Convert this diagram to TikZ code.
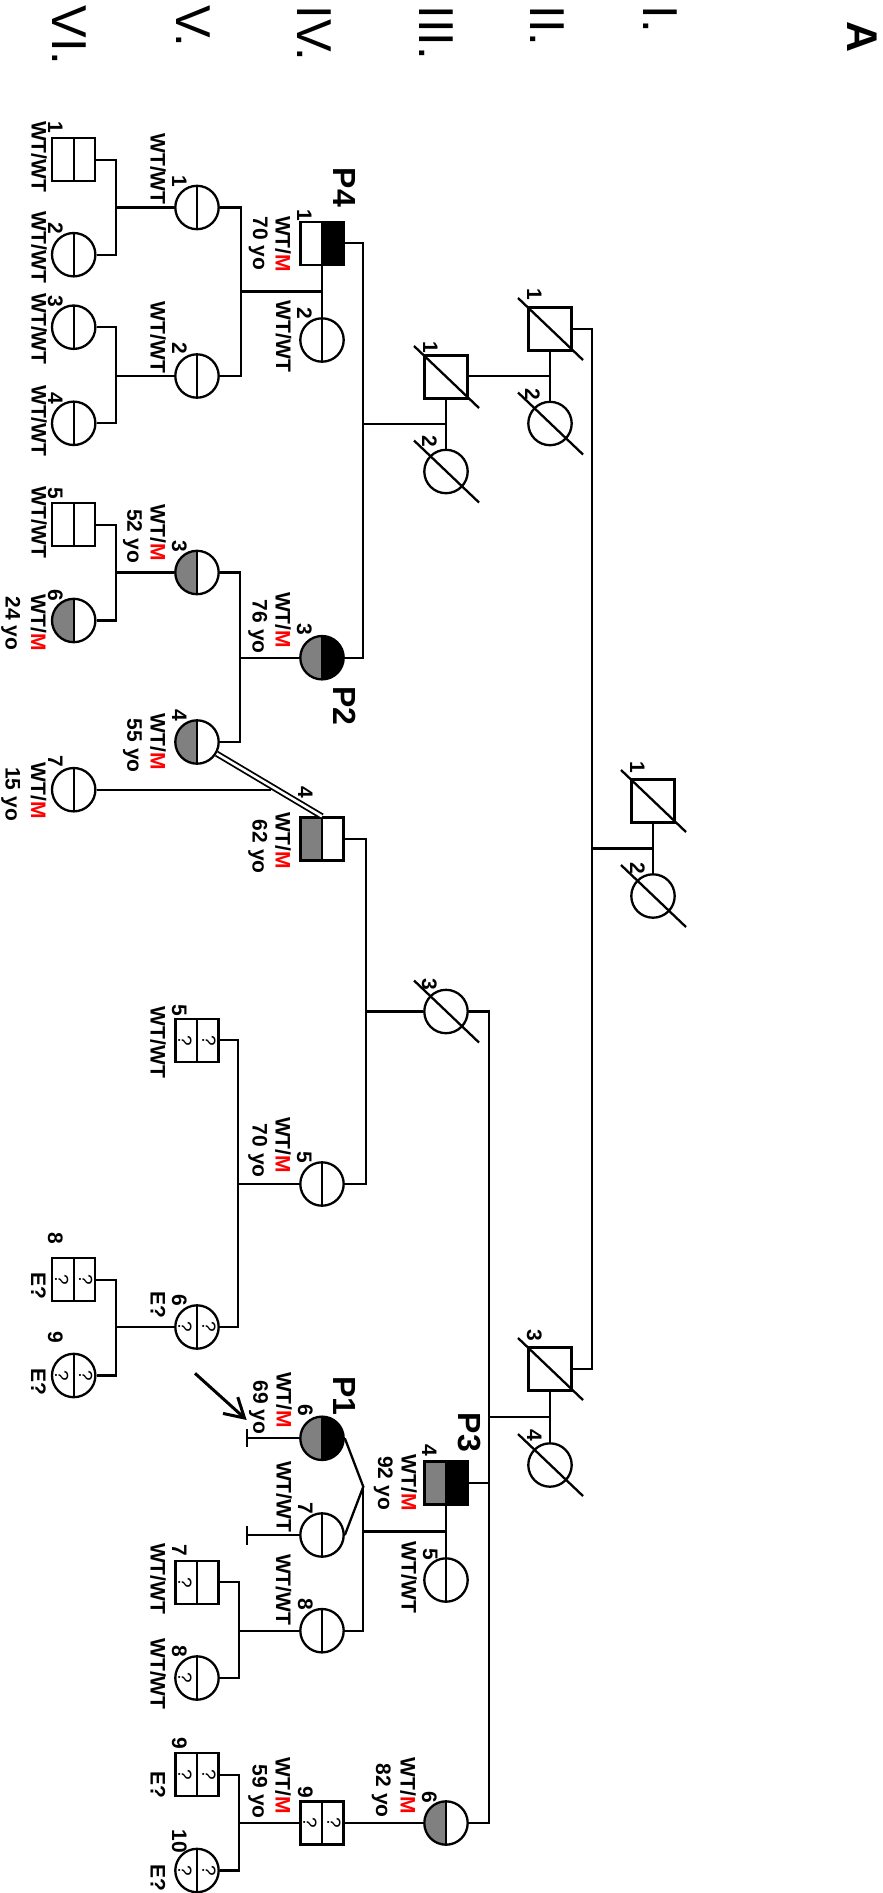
\documentclass[tikz,border=0pt]{standalone}
\usepackage{fontspec}
\setmainfont{Liberation Sans}
\usetikzlibrary{calc,arrows.meta}
\definecolor{gry}{RGB}{128,128,128}
\newcommand\WM{WT/\textcolor{red}{M}}
\newcommand\lab[4]{\node[lab] (#1) at (#2,#3) {#4};}
\newcommand\dead[1]{\draw (#1.center) ++(-32,-31) -- ++(65,62);}
\newcommand\qq[3]{\node[qm] (#1) at ($(#2)+(#3,0)$) {?};}
\begin{document}
\begin{tikzpicture}[x=1pt,y=-1pt,line width=2.3pt,
  sq/.style={rectangle, draw, minimum size=43pt, inner sep=0pt},
  ci/.style={circle, draw, minimum size=43.4pt, inner sep=0pt},
  halves/.style 2 args={path picture={
    \fill[#1] (path picture bounding box.south west) rectangle (path picture bounding box.north);
    \fill[#2] (path picture bounding box.south) rectangle (path picture bounding box.north east);
    \draw[line width=2.3pt] (path picture bounding box.south) -- (path picture bounding box.north);}},
  lab/.style={rotate=-90, inner sep=0pt, anchor=base, font=\bfseries\fontsize{21}{21}\selectfont},
  pl/.style={rotate=-90, inner sep=0pt, anchor=base, font=\bfseries\fontsize{32}{32}\selectfont},
  gen/.style={rotate=-90, inner sep=0pt, anchor=base west, font=\fontsize{49}{49}\selectfont},
  qm/.style={rotate=-90, inner sep=0pt, font=\fontsize{19}{19}\selectfont},
  dbl/.style={double, double distance=2.6pt, line width=1.8pt}
]
\fill[white] (0,0) rectangle (883,1893);
\useasboundingbox (0,0) rectangle (883,1893);

% generation numerals and panel letter
\node[gen] (gI) at (643,4.5) {I.};
\node[gen] (gII) at (530,4.5) {II.};
\node[gen] (gIII) at (419,4.5) {III.};
\node[gen] (gIV) at (297,4.5) {IV.};
\node[gen] (gV) at (176,4.5) {V.};
\node[gen] (gVI) at (52,4.5) {VI.};
\node[rotate=-90, inner sep=0pt, anchor=base, font=\bfseries\fontsize{43}{43}\selectfont] (pA) at (847,37) {A};

% symbols
\node[sq] (I1) at (653,801) {};
\node[ci] (I2) at (653,896) {};
\node[sq] (II1) at (550,329) {};
\node[ci] (II2) at (550,423.5) {};
\node[sq] (II3) at (550,1369) {};
\node[ci] (II4) at (550,1465) {};
\node[sq] (III1) at (446,377) {};
\node[ci] (III2) at (446,471.5) {};
\node[ci] (III3) at (446,1011.5) {};
\node[sq,halves={gry}{black}] (III4) at (446,1483) {};
\node[ci,halves={white}{white}] (III5) at (446,1580) {};
\node[ci,halves={gry}{white}] (III6) at (446,1823) {};
\node[sq,halves={white}{black}] (IV1) at (322,243.3) {};
\node[ci,halves={white}{white}] (IV2) at (322,340) {};
\node[ci,halves={gry}{black}] (IV3) at (322,657.7) {};
\node[sq,halves={gry}{white}] (IV4) at (322,839) {};
\node[ci,halves={white}{white}] (IV5) at (322,1184) {};
\node[ci,halves={gry}{black}] (IV6) at (322,1438.3) {};
\node[ci,halves={white}{white}] (IV7) at (322,1535) {};
\node[ci,halves={white}{white}] (IV8) at (322,1630.7) {};
\node[sq,halves={white}{white}] (IV9) at (322,1823) {};
\node[ci,halves={white}{white}] (V1) at (197,207.5) {};
\node[ci,halves={white}{white}] (V2) at (197,376) {};
\node[ci,halves={gry}{white}] (V3) at (197,572.5) {};
\node[ci,halves={gry}{white}] (V4) at (197,742) {};
\node[sq,halves={white}{white}] (V5) at (197,1040.3) {};
\node[ci,halves={white}{white}] (V6) at (197,1327) {};
\node[sq,halves={white}{white}] (V7) at (197,1582.3) {};
\node[ci,halves={white}{white}] (V8) at (197,1678) {};
\node[sq,halves={white}{white}] (V9) at (197,1774.8) {};
\node[ci,halves={white}{white}] (V10) at (197,1870.5) {};
\node[sq,halves={white}{white}] (VI1) at (73.7,159.7) {};
\node[ci,halves={white}{white}] (VI2) at (73.7,254.7) {};
\node[ci,halves={white}{white}] (VI3) at (73.7,327.2) {};
\node[ci,halves={white}{white}] (VI4) at (73.7,423.3) {};
\node[sq,halves={white}{white}] (VI5) at (73.7,524.7) {};
\node[ci,halves={gry}{white}] (VI6) at (73.7,620.5) {};
\node[ci,halves={white}{white}] (VI7) at (73.7,789.7) {};
\node[sq,halves={white}{white}] (VI8) at (73.7,1279.7) {};
\node[ci,halves={white}{white}] (VI9) at (73.7,1375.5) {};

% deceased slashes
\dead{I1}\dead{I2}\dead{II1}\dead{II2}\dead{II3}\dead{II4}
\dead{III1}\dead{III2}\dead{III3}

% question marks
\qq{q1}{IV9}{-12}\qq{q2}{IV9}{12}
\qq{q3}{V5}{-12}\qq{q4}{V5}{12}
\qq{q5}{V6}{-12}\qq{q6}{V6}{12}
\qq{q7}{V7}{-12}
\qq{q8}{V8}{-12}
\qq{q9}{V9}{-12}\qq{q10}{V9}{12}
\qq{q11}{V10}{-12}\qq{q12}{V10}{12}
\qq{q13}{VI8}{-12}\qq{q14}{VI8}{12}
\qq{q15}{VI9}{-12}\qq{q16}{VI9}{12}

% connectors: generation I
\draw (I1.south) -- (I2.north);
\coordinate (m1) at ($(I1.south)!0.5!(I2.north)$);
\coordinate (s2) at (592.3,0);
\draw (m1) -- (m1 -| s2);
\draw (II1.east) -- (II1.east -| s2) -- (II3.east -| s2) -- (II3.east);
% generation II
\draw (II1.south) -- (II2.north);
\coordinate (m2) at ($(II1.south)!0.5!(II2.north)$);
\draw (m2) -- (m2 -| III1.east);
\draw (II3.south) -- (II4.north);
\coordinate (m3) at ($(II3.south)!0.5!(II4.north)$);
\coordinate (s3) at (489.3,0);
\draw (m3) -- (m3 -| s3);
\draw (III3.east) -- (III3.east -| s3) -- (III6.east -| s3) -- (III6.east);
\draw (III4.east) -- (III4.east -| s3);
% generation III
\draw (III1.south) -- (III2.north);
\coordinate (m4) at ($(III1.south)!0.5!(III2.north)$);
\coordinate (s4) at (363.3,0);
\draw (m4) -- (m4 -| s4);
\draw (IV1.east) -- (IV1.east -| s4) -- (IV3.east -| s4) -- (IV3.east);
\coordinate (s4b) at (365.7,0);
\draw (III3.west) -- (III3.west -| s4b);
\draw (IV4.east) -- (IV4.east -| s4b) -- (IV5.east -| s4b) -- (IV5.east);
\draw (III4.south) -- (III5.north);
\coordinate (m7) at ($(III4.south)!0.5!(III5.north)$);
\coordinate (tw) at (363.3,1486.7);
\draw (m7) -- (m7 -| tw);
\draw (IV6.east) -- (tw) -- (IV7.east);
\draw (tw) -- (IV8.east -| tw) -- (IV8.east);
\draw (III6.west) -- (IV9.east);
% generation IV
\draw (IV1.south) -- (IV2.north);
\coordinate (m5) at ($(IV1.south)!0.5!(IV2.north)$);
\coordinate (s5a) at (240.7,0);
\draw (m5) -- (m5 -| s5a);
\draw (V1.east) -- (V1.east -| s5a) -- (V2.east -| s5a) -- (V2.east);
\coordinate (s5b) at (240,0);
\draw (IV3.west) -- (IV3.west -| s5b);
\draw (V3.east) -- (V3.east -| s5b) -- (V4.east -| s5b) -- (V4.east);
\draw[dbl] (V4) -- (IV4.north);
\coordinate (cj) at ($(V4.center)!0.64!(IV4.north)+(-6,0)$);
\draw (VI7.east) -- (VI7.east -| cj);
\coordinate (s5c) at (238.3,0);
\draw (IV5.west) -- (IV5.west -| s5c);
\draw (V5.east) -- (V5.east -| s5c) -- (V6.east -| s5c) -- (V6.east);
\coordinate (t1) at (246.7,1438.3);
\coordinate (t2) at (246.7,1535);
\draw (IV6.west) -- (t1);
\draw (t1) ++(0,-9) -- ++(0,18);
\draw (IV7.west) -- (t2);
\draw (t2) ++(0,-9.5) -- ++(0,19);
\coordinate (s5d) at (239,0);
\draw (IV8.west) -- (IV8.west -| s5d);
\draw (V7.east) -- (V7.east -| s5d) -- (V8.east -| s5d) -- (V8.east);
\draw (IV9.west) -- (IV9.west -| s5d);
\draw (V9.east) -- (V9.east -| s5d) -- (V10.east -| s5d) -- (V10.east);
% generation V
\coordinate (s6) at (116,0);
\draw (V1.west) -- (V1.west -| s6);
\draw (VI1.east) -- (VI1.east -| s6) -- (VI2.east -| s6) -- (VI2.east);
\draw (V2.west) -- (V2.west -| s6);
\draw (VI3.east) -- (VI3.east -| s6) -- (VI4.east -| s6) -- (VI4.east);
\draw (V3.west) -- (V3.west -| s6);
\draw (VI5.east) -- (VI5.east -| s6) -- (VI6.east -| s6) -- (VI6.east);
\draw (V6.west) -- (V6.west -| s6);
\draw (VI8.east) -- (VI8.east -| s6) -- (VI9.east -| s6) -- (VI9.east);

% proband arrow
\coordinate (as) at (195,1373.3);
\coordinate (ae) at (246.7,1420);
\draw[line width=3pt, -{Straight Barb[length=19pt,width=22pt]}] (as) -- (ae);

% proband labels
\node[pl] (P4) at (333,187.5) {P4};
\node[pl] (P2) at (333,706) {P2};
\node[pl] (P1) at (333,1396) {P1};
\node[pl] (P3) at (458,1432.5) {P3};

% individual numbers
\lab{nI1}{630}{767}{1}
\lab{nI2}{630}{868.5}{2}
\lab{nII1}{527}{294}{1}
\lab{nII2}{525}{394}{2}
\lab{nII3}{527}{1335}{3}
\lab{nII4}{527}{1435}{4}
\lab{nIII1}{423}{347}{1}
\lab{nIII2}{422}{441}{2}
\lab{nIII3}{422}{984}{3}
\lab{nIII4}{422}{1450.5}{4}
\lab{nIII5}{423}{1554}{5}
\lab{nIII6}{422}{1797}{6}
\lab{nIV1}{297}{215}{1}
\lab{nIV2}{297}{313}{2}
\lab{nIV3}{297}{629}{3}
\lab{nIV4}{298}{792.5}{4}
\lab{nIV5}{297}{1157}{5}
\lab{nIV6}{298}{1410}{6}
\lab{nIV7}{298}{1508}{7}
\lab{nIV8}{298}{1604}{8}
\lab{nIV9}{298}{1792.5}{9}
\lab{nV1}{172}{181}{1}
\lab{nV2}{172}{348.5}{2}
\lab{nV3}{172}{546.7}{3}
\lab{nV4}{172}{715}{4}
\lab{nV5}{172}{1010}{5}
\lab{nV6}{172}{1300}{6}
\lab{nV7}{172}{1550}{7}
\lab{nV8}{172}{1651.7}{8}
\lab{nV9}{172}{1743.3}{9}
\lab{nV10}{172}{1841}{10}
\lab{nVI1}{48}{127.5}{1}
\lab{nVI2}{48}{228.5}{2}
\lab{nVI3}{48}{301.7}{3}
\lab{nVI4}{48}{398}{4}
\lab{nVI5}{48}{493}{5}
\lab{nVI6}{48}{595}{6}
\lab{nVI7}{48}{761.7}{7}
\lab{nVI8}{48}{1238.3}{8}
\lab{nVI9}{48}{1337}{9}

% genotypes and ages
\lab{gIII4}{401.7}{1482.5}{\WM}
\lab{aIII4}{378}{1483}{92 yo}
\lab{gIII5}{401.7}{1577.5}{WT/WT}
\lab{gIII6}{400.5}{1785.8}{\WM}
\lab{aIII6}{376}{1790.8}{82 yo}
\lab{gIV1}{275.5}{244}{\WM}
\lab{aIV1}{253}{243.5}{70 yo}
\lab{gIV2}{276}{336.3}{WT/WT}
\lab{gIV3}{275.5}{620}{\WM}
\lab{aIV3}{252.5}{626.7}{76 yo}
\lab{gIV4}{275.5}{840.8}{\WM}
\lab{aIV4}{252.5}{846.7}{62 yo}
\lab{gIV5}{275.5}{1145}{\WM}
\lab{aIV5}{252.5}{1150.8}{70 yo}
\lab{gIV6}{276.7}{1400}{\WM}
\lab{aIV6}{253.3}{1407.5}{69 yo}
\lab{gIV7}{276.7}{1496.7}{WT/WT}
\lab{gIV8}{276}{1589.7}{WT/WT}
\lab{gIV9}{275.5}{1785.8}{\WM}
\lab{aIV9}{252.5}{1791.7}{59 yo}
\lab{gV1}{150.7}{169}{WT/WT}
\lab{gV2}{150.7}{337.5}{WT/WT}
\lab{gV3}{150.7}{532.5}{\WM}
\lab{aV3}{127.3}{536}{52 yo}
\lab{gV4}{150.7}{741.7}{\WM}
\lab{aV4}{127.3}{745.8}{55 yo}
\lab{gV5}{150.7}{1042.5}{WT/WT}
\lab{gV6}{150.7}{1305}{E?}
\lab{gV7}{150.7}{1578.7}{WT/WT}
\lab{gV8}{150.7}{1674}{WT/WT}
\lab{gV9}{150.7}{1785}{E?}
\lab{gV10}{150.7}{1877.5}{E?}
\lab{gVI1}{31.7}{156.7}{WT/WT}
\lab{gVI2}{31.7}{247.5}{WT/WT}
\lab{gVI3}{31.7}{329}{WT/WT}
\lab{gVI4}{31.7}{420.8}{WT/WT}
\lab{gVI5}{31.7}{522.5}{WT/WT}
\lab{gVI6}{31}{622.5}{\WM}
\lab{aVI6}{5.5}{623.3}{24 yo}
\lab{gVI7}{31}{790.8}{\WM}
\lab{aVI7}{5.5}{794}{15 yo}
\lab{gVI8}{31}{1286}{E?}
\lab{gVI9}{31}{1381.7}{E?}
\end{tikzpicture}
\end{document}
